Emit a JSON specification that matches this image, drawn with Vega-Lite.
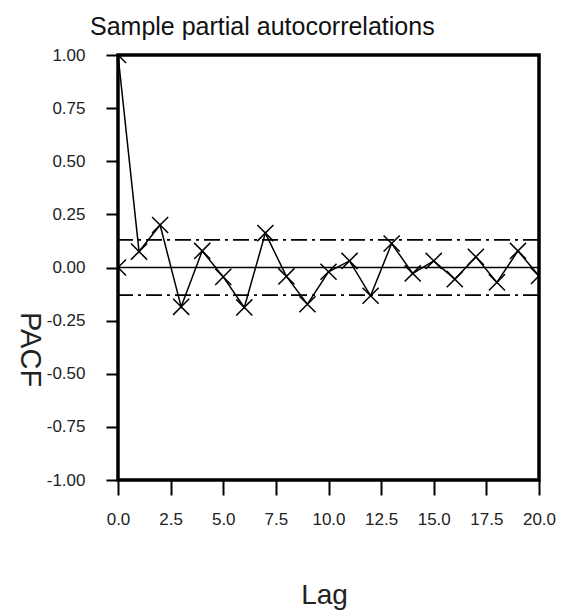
{
  "$schema": "https://vega.github.io/schema/vega-lite/v6.json",
  "width": 421,
  "height": 425,
  "autosize": "none",
  "padding": {"left": 118, "top": 55, "right": 26, "bottom": 130},
  "background": "white",
  "config": {
    "view": {"stroke": "black", "strokeWidth": 3.5},
    "font": "Liberation Sans",
    "axis": {
      "grid": false,
      "domain": false,
      "tickColor": "black",
      "tickWidth": 2,
      "labelColor": "#222",
      "labelFontSize": 17,
      "labelFlush": false,
      "labelOverlap": false,
      "titleFontWeight": "normal",
      "titleColor": "#222"
    }
  },
  "title": {
    "text": "Sample partial autocorrelations",
    "anchor": "start",
    "frame": "group",
    "dx": -28,
    "dy": 34,
    "fontSize": 25,
    "fontWeight": "normal",
    "baseline": "alphabetic",
    "offset": 20,
    "color": "#111"
  },
  "datasets": {
    "pacf": [
      {"lag": 0, "value": 1.0},
      {"lag": 1, "value": 0.075},
      {"lag": 2, "value": 0.2},
      {"lag": 3, "value": -0.185},
      {"lag": 4, "value": 0.078},
      {"lag": 5, "value": -0.044},
      {"lag": 6, "value": -0.188},
      {"lag": 7, "value": 0.162},
      {"lag": 8, "value": -0.042},
      {"lag": 9, "value": -0.173},
      {"lag": 10, "value": -0.02},
      {"lag": 11, "value": 0.031},
      {"lag": 12, "value": -0.133},
      {"lag": 13, "value": 0.113},
      {"lag": 14, "value": -0.028},
      {"lag": 15, "value": 0.031},
      {"lag": 16, "value": -0.055},
      {"lag": 17, "value": 0.05},
      {"lag": 18, "value": -0.07},
      {"lag": 19, "value": 0.078},
      {"lag": 20, "value": -0.04}
    ],
    "origin": [{"lag": 0, "value": 0}],
    "bounds": [{"value": 0.13}, {"value": -0.13}],
    "zero": [{"value": 0}]
  },
  "layer": [
    {
      "data": {"name": "pacf"},
      "mark": {"type": "line", "color": "black", "strokeWidth": 1.5, "clip": true},
      "encoding": {
        "x": {
          "field": "lag",
          "type": "quantitative",
          "scale": {"domain": [0, 20], "nice": false, "zero": false},
          "axis": {
            "values": [0, 2.5, 5, 7.5, 10, 12.5, 15, 17.5, 20],
            "format": ".1f",
            "tickSize": 15,
            "labelPadding": 16,
            "labelBaseline": "top",
            "labelAlign": "center",
            "title": "Lag",
            "titleFontSize": 28,
            "titleX": 206,
            "titleY": 123,
            "titleAlign": "center",
            "titleBaseline": "alphabetic"
          }
        },
        "y": {
          "field": "value",
          "type": "quantitative",
          "scale": {"domain": [-1, 1], "nice": false},
          "axis": {
            "values": [-1, -0.75, -0.5, -0.25, 0, 0.25, 0.5, 0.75, 1],
            "labelExpr": "datum.value < 0 ? '-' + format(-datum.value, '.2f') : format(datum.value, '.2f')",
            "tickSize": 12,
            "labelPadding": 21,
            "title": "PACF",
            "titleAngle": 90,
            "titleFontSize": 29,
            "titleX": -89,
            "titleY": 294,
            "titleAlign": "center",
            "titleBaseline": "middle"
          }
        }
      }
    },
    {
      "data": {"name": "pacf"},
      "mark": {"type": "point", "shape": "M-1,-1L1,1M-1,1L1,-1", "filled": false, "color": "black", "strokeWidth": 1.5, "size": 260, "opacity": 1, "clip": true},
      "encoding": {
        "x": {"field": "lag", "type": "quantitative"},
        "y": {"field": "value", "type": "quantitative"}
      }
    },
    {
      "data": {"name": "origin"},
      "mark": {"type": "point", "shape": "M-1,-1L1,1M-1,1L1,-1", "filled": false, "color": "black", "strokeWidth": 1.5, "size": 260, "opacity": 1, "clip": true},
      "encoding": {
        "x": {"field": "lag", "type": "quantitative"},
        "y": {"field": "value", "type": "quantitative"}
      }
    },
    {
      "data": {"name": "zero"},
      "mark": {"type": "rule", "color": "black", "strokeWidth": 1.5},
      "encoding": {
        "y": {"field": "value", "type": "quantitative"}
      }
    },
    {
      "data": {"name": "bounds"},
      "mark": {"type": "rule", "color": "black", "strokeWidth": 1.8, "strokeDash": [16, 5, 3, 5]},
      "encoding": {
        "y": {"field": "value", "type": "quantitative"}
      }
    }
  ]
}
